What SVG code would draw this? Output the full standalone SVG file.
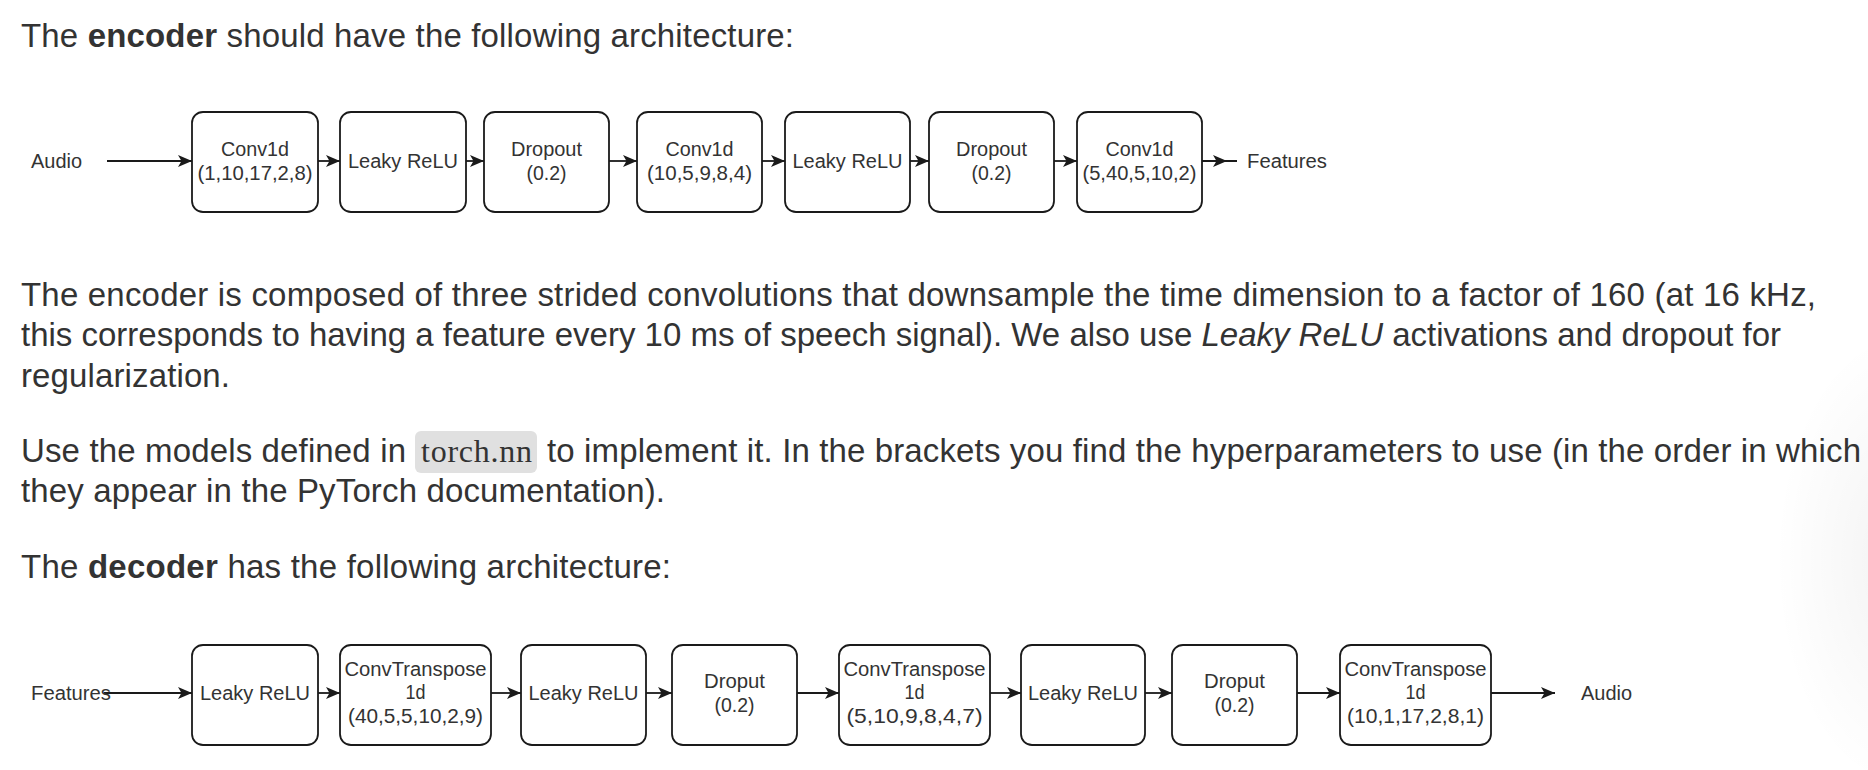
<svg xmlns="http://www.w3.org/2000/svg" width="1868" height="770" viewBox="0 0 1868 770">
<defs>
<style>
.p{font-family:"Liberation Sans",Arial,Helvetica,sans-serif;font-size:33px;fill:#333}
.b{font-weight:bold}
.i{font-style:italic}
.code{font-family:"Liberation Serif","Times New Roman",serif;font-size:32px;fill:#333}
.node rect{fill:#fff;stroke:#1a1a1a;stroke-width:1.8}
.lbl{font-family:"Liberation Sans",Arial,Helvetica,sans-serif;font-size:20px;fill:#333;text-anchor:middle}
.edge{font-family:"Liberation Sans",Arial,Helvetica,sans-serif;font-size:20px;fill:#333}
.conn path{fill:none;stroke:#1a1a1a;stroke-width:1.8}
</style>
<marker id="ah" markerUnits="userSpaceOnUse" markerWidth="16" markerHeight="14" refX="14" refY="7" orient="auto">
<path d="M0,1 L14,7 L0,13 L3.5,7 Z" fill="#1a1a1a"/>
</marker>
<radialGradient id="sh" cx="0.5" cy="0.5" r="0.5">
<stop offset="0" stop-color="#000" stop-opacity="0.05"/>
<stop offset="1" stop-color="#000" stop-opacity="0"/>
</radialGradient>
</defs>
<rect x="0" y="0" width="1868" height="770" fill="#fff"/>
<ellipse cx="1905" cy="560" rx="130" ry="230" fill="url(#sh)"/>

<!-- prose -->
<text class="p" x="21" y="47" textLength="773" lengthAdjust="spacing">The <tspan class="b">encoder</tspan> should have the following architecture:</text>
<text class="p" x="21" y="306" textLength="1795" lengthAdjust="spacing">The encoder is composed of three strided convolutions that downsample the time dimension to a factor of 160 (at 16 kHz,</text>
<text class="p" x="21" y="346" textLength="1760" lengthAdjust="spacing">this corresponds to having a feature every 10 ms of speech signal). We also use <tspan class="i">Leaky ReLU</tspan> activations and dropout for</text>
<text class="p" x="21" y="387" textLength="209" lengthAdjust="spacing">regularization.</text>
<text class="p" x="21" y="462" textLength="385" lengthAdjust="spacing">Use the models defined in</text>
<rect x="415" y="431" width="122" height="42" rx="6" fill="#e0e0e0"/>
<text class="code" x="421" y="462" textLength="111" lengthAdjust="spacing">torch.nn</text>
<text class="p" x="547" y="462" textLength="1314" lengthAdjust="spacing">to implement it. In the brackets you find the hyperparameters to use (in the order in which</text>
<text class="p" x="21" y="502" textLength="644" lengthAdjust="spacing">they appear in the PyTorch documentation).</text>
<text class="p" x="21" y="578" textLength="650" lengthAdjust="spacing">The <tspan class="b">decoder</tspan> has the following architecture:</text>

<!-- encoder connectors -->
<g id="enc-connectors" class="conn">
<path d="M107,161 L192,161" marker-end="url(#ah)"/>
<path d="M318,161 L340,161" marker-end="url(#ah)"/>
<path d="M466,161 L484,161" marker-end="url(#ah)"/>
<path d="M609,161 L637,161" marker-end="url(#ah)"/>
<path d="M762,161 L785,161" marker-end="url(#ah)"/>
<path d="M910,161 L929,161" marker-end="url(#ah)"/>
<path d="M1054,161 L1077,161" marker-end="url(#ah)"/>
<path d="M1202,161 L1227,161 L1237,161" marker-mid="url(#ah)"/>
</g>

<!-- encoder nodes -->
<g id="enc-audio"><text class="edge" x="31" y="168" textLength="51" lengthAdjust="spacingAndGlyphs">Audio</text></g>
<g id="enc-conv1" class="node"><rect x="192" y="112" width="126" height="100" rx="11"/>
<text class="lbl" x="255" y="156" textLength="68" lengthAdjust="spacingAndGlyphs">Conv1d</text>
<text class="lbl" x="255" y="180" textLength="115" lengthAdjust="spacingAndGlyphs">(1,10,17,2,8)</text></g>
<g id="enc-relu1" class="node"><rect x="340" y="112" width="126" height="100" rx="11"/>
<text class="lbl" x="403" y="168" textLength="110" lengthAdjust="spacingAndGlyphs">Leaky ReLU</text></g>
<g id="enc-drop1" class="node"><rect x="484" y="112" width="125" height="100" rx="11"/>
<text class="lbl" x="546.5" y="156" textLength="71" lengthAdjust="spacingAndGlyphs">Dropout</text>
<text class="lbl" x="546.5" y="180" textLength="40" lengthAdjust="spacingAndGlyphs">(0.2)</text></g>
<g id="enc-conv2" class="node"><rect x="637" y="112" width="125" height="100" rx="11"/>
<text class="lbl" x="699.5" y="156" textLength="68" lengthAdjust="spacingAndGlyphs">Conv1d</text>
<text class="lbl" x="699.5" y="180" textLength="105" lengthAdjust="spacingAndGlyphs">(10,5,9,8,4)</text></g>
<g id="enc-relu2" class="node"><rect x="785" y="112" width="125" height="100" rx="11"/>
<text class="lbl" x="847.5" y="168" textLength="110" lengthAdjust="spacingAndGlyphs">Leaky ReLU</text></g>
<g id="enc-drop2" class="node"><rect x="929" y="112" width="125" height="100" rx="11"/>
<text class="lbl" x="991.5" y="156" textLength="71" lengthAdjust="spacingAndGlyphs">Dropout</text>
<text class="lbl" x="991.5" y="180" textLength="40" lengthAdjust="spacingAndGlyphs">(0.2)</text></g>
<g id="enc-conv3" class="node"><rect x="1077" y="112" width="125" height="100" rx="11"/>
<text class="lbl" x="1139.5" y="156" textLength="68" lengthAdjust="spacingAndGlyphs">Conv1d</text>
<text class="lbl" x="1139.5" y="180" textLength="114" lengthAdjust="spacingAndGlyphs">(5,40,5,10,2)</text></g>
<g id="enc-features"><text class="edge" x="1247" y="168" textLength="80" lengthAdjust="spacingAndGlyphs">Features</text></g>

<!-- decoder connectors -->
<g id="dec-connectors" class="conn">
<path d="M104,693 L192,693" marker-end="url(#ah)"/>
<path d="M318,693 L340,693" marker-end="url(#ah)"/>
<path d="M491,693 L521,693" marker-end="url(#ah)"/>
<path d="M646,693 L672,693" marker-end="url(#ah)"/>
<path d="M797,693 L839,693" marker-end="url(#ah)"/>
<path d="M990,693 L1021,693" marker-end="url(#ah)"/>
<path d="M1145,693 L1172,693" marker-end="url(#ah)"/>
<path d="M1297,693 L1340,693" marker-end="url(#ah)"/>
<path d="M1491,693 L1555,693" marker-end="url(#ah)"/>
</g>

<!-- decoder nodes -->
<g id="dec-features"><text class="edge" x="31" y="700" textLength="80" lengthAdjust="spacingAndGlyphs">Features</text></g>
<g id="dec-relu1" class="node"><rect x="192" y="645" width="126" height="100" rx="11"/>
<text class="lbl" x="255" y="700" textLength="110" lengthAdjust="spacingAndGlyphs">Leaky ReLU</text></g>
<g id="dec-convt1" class="node"><rect x="340" y="645" width="151" height="100" rx="11"/>
<text class="lbl" x="415.5" y="676" textLength="142" lengthAdjust="spacingAndGlyphs">ConvTranspose</text>
<text class="lbl" x="415.5" y="699" textLength="20" lengthAdjust="spacingAndGlyphs">1d</text>
<text class="lbl" x="415.5" y="723" textLength="135" lengthAdjust="spacingAndGlyphs">(40,5,5,10,2,9)</text></g>
<g id="dec-relu2" class="node"><rect x="521" y="645" width="125" height="100" rx="11"/>
<text class="lbl" x="583.5" y="700" textLength="110" lengthAdjust="spacingAndGlyphs">Leaky ReLU</text></g>
<g id="dec-drop1" class="node"><rect x="672" y="645" width="125" height="100" rx="11"/>
<text class="lbl" x="734.5" y="688" textLength="61" lengthAdjust="spacingAndGlyphs">Droput</text>
<text class="lbl" x="734.5" y="712" textLength="40" lengthAdjust="spacingAndGlyphs">(0.2)</text></g>
<g id="dec-convt2" class="node"><rect x="839" y="645" width="151" height="100" rx="11"/>
<text class="lbl" x="914.5" y="676" textLength="142" lengthAdjust="spacingAndGlyphs">ConvTranspose</text>
<text class="lbl" x="914.5" y="699" textLength="20" lengthAdjust="spacingAndGlyphs">1d</text>
<text class="lbl" x="914.5" y="723" textLength="136" lengthAdjust="spacingAndGlyphs">(5,10,9,8,4,7)</text></g>
<g id="dec-relu3" class="node"><rect x="1021" y="645" width="124" height="100" rx="11"/>
<text class="lbl" x="1083" y="700" textLength="110" lengthAdjust="spacingAndGlyphs">Leaky ReLU</text></g>
<g id="dec-drop2" class="node"><rect x="1172" y="645" width="125" height="100" rx="11"/>
<text class="lbl" x="1234.5" y="688" textLength="61" lengthAdjust="spacingAndGlyphs">Droput</text>
<text class="lbl" x="1234.5" y="712" textLength="40" lengthAdjust="spacingAndGlyphs">(0.2)</text></g>
<g id="dec-convt3" class="node"><rect x="1340" y="645" width="151" height="100" rx="11"/>
<text class="lbl" x="1415.5" y="676" textLength="142" lengthAdjust="spacingAndGlyphs">ConvTranspose</text>
<text class="lbl" x="1415.5" y="699" textLength="20" lengthAdjust="spacingAndGlyphs">1d</text>
<text class="lbl" x="1415.5" y="723" textLength="137" lengthAdjust="spacingAndGlyphs">(10,1,17,2,8,1)</text></g>
<g id="dec-audio"><text class="edge" x="1581" y="700" textLength="51" lengthAdjust="spacingAndGlyphs">Audio</text></g>
</svg>
